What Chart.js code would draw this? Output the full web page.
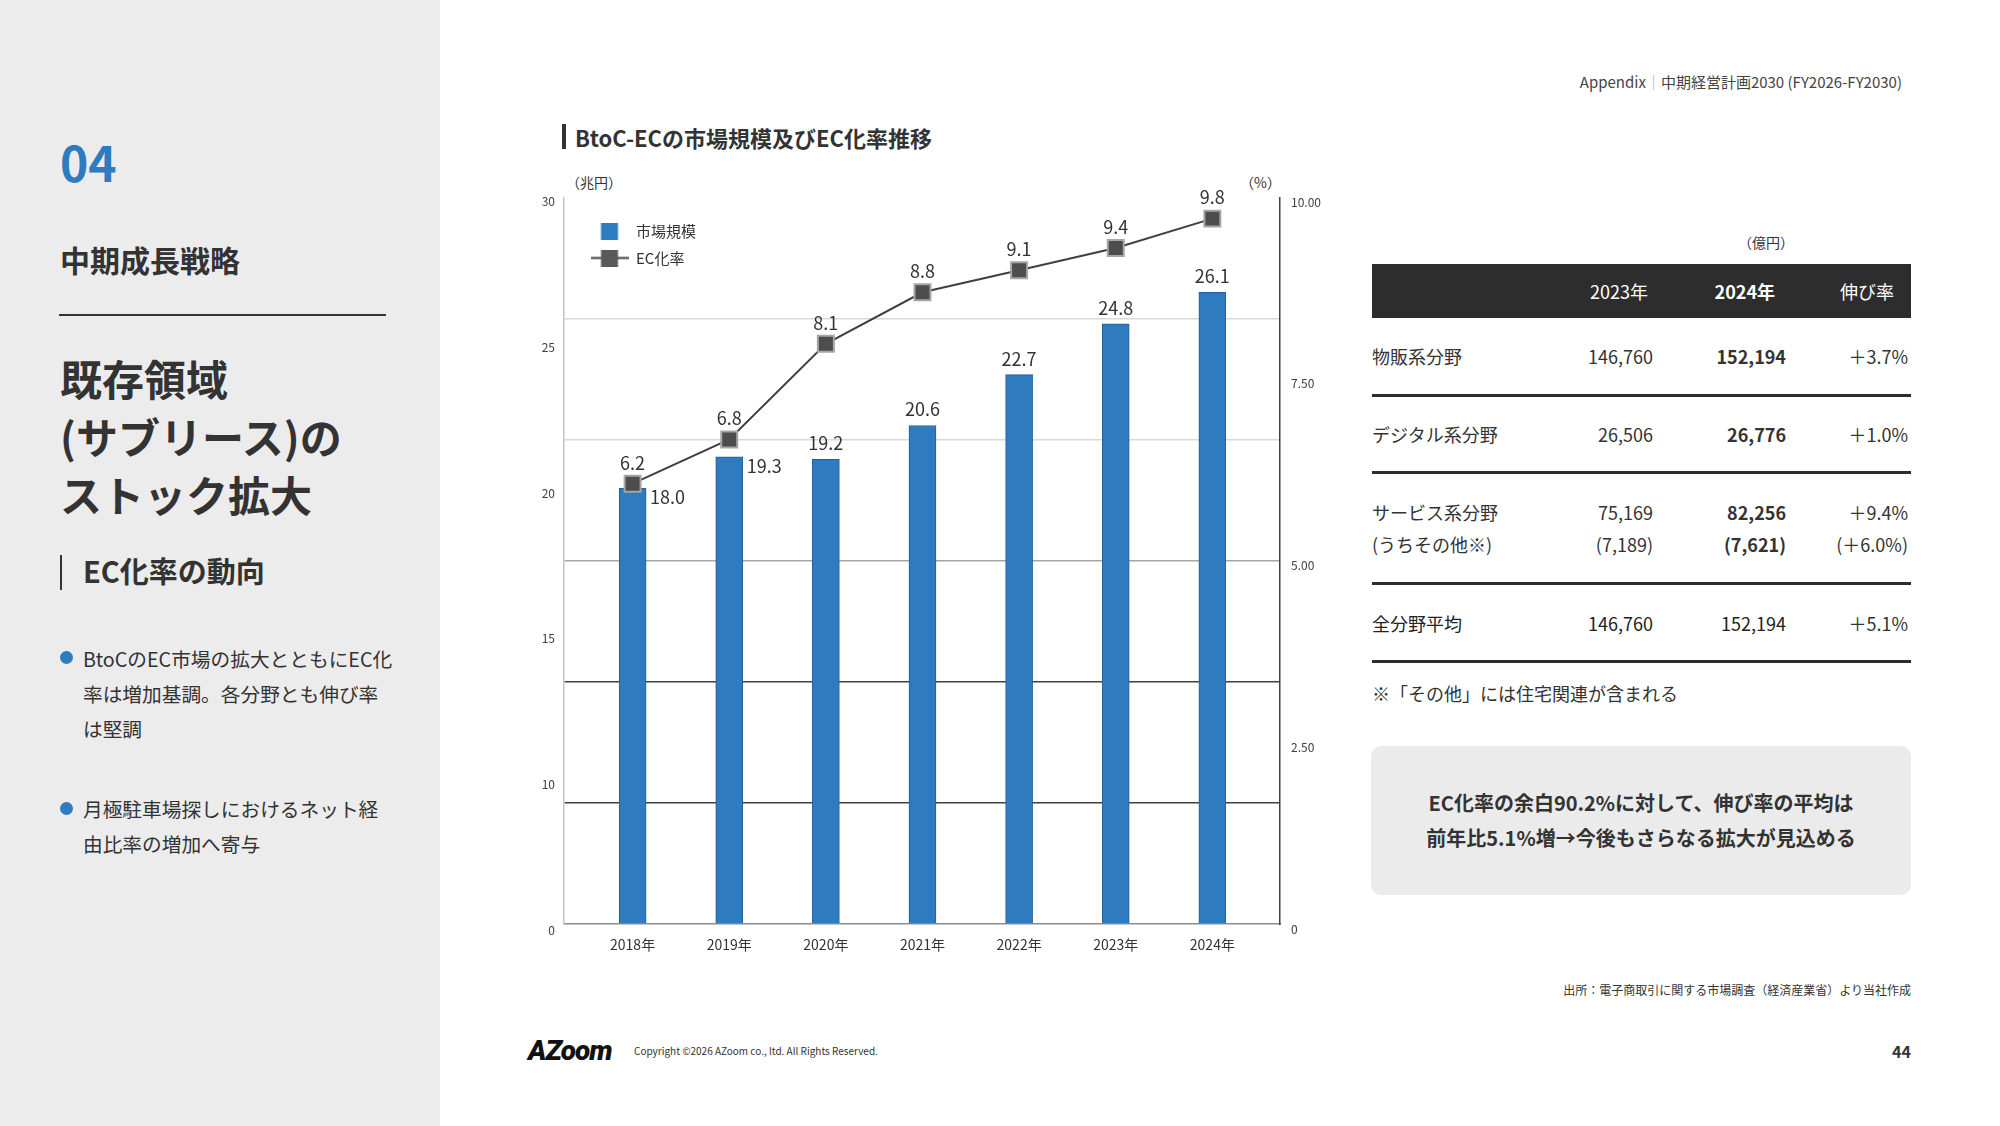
<!DOCTYPE html>
<html lang="ja">
<head>
<meta charset="utf-8">
<title>BtoC-ECの市場規模及びEC化率推移</title>
<script src="https://cdn.jsdelivr.net/npm/chart.js@4.4.1/dist/chart.umd.min.js"></script>
<style>
  html, body { margin: 0; padding: 0; }
  body {
    width: 2000px; height: 1126px; position: relative; overflow: hidden;
    background: #fff; color: #333;
    font-family: "Noto Sans CJK JP", "Noto Sans", sans-serif;
  }
  .abs { position: absolute; white-space: nowrap; line-height: 1; }
  #side { position: absolute; left: 0; top: 0; width: 440px; height: 1126px; background: #ececec; }
  #chartBox { position: absolute; left: 520px; top: 150px; width: 820px; height: 830px; }
  table.ec {
    position: absolute; left: 1372px; top: 264px; width: 539px;
    border-collapse: collapse; table-layout: fixed; font-size: 18px; white-space: nowrap;
  }
  table.ec th { background: #2d2d2d; color: #fff; font-weight: 400; height: 54px; padding: 0; text-align: right; }
  table.ec td { padding: 0; text-align: right; line-height: 32px; }
  table.ec td:first-child { text-align: left; }
  table.ec td:last-child { padding-right: 3px; }
  table.ec tr.sep td { border-bottom: 3px solid #2d2d2d; }
  table.ec b { font-weight: 700; }
</style>
</head>
<body>
<div id="side"></div>
<div class="abs" style="left:60px;top:137px;font-size:48px;font-weight:700;color:#2e7bbf;">04</div>
<div class="abs" style="left:60px;top:244px;font-size:30px;font-weight:700;">中期成長戦略</div>
<div class="abs" style="left:59px;top:314px;width:327px;height:2px;background:#333;"></div>
<div class="abs" style="left:60px;top:349px;font-size:42px;font-weight:700;line-height:58px;">既存領域<br>(サブリース)の<br>ストック拡大</div>
<div class="abs" style="left:60px;top:555px;width:2px;height:35px;background:#333;"></div>
<div class="abs" style="left:83px;top:556px;font-size:29px;font-weight:700;">EC化率の動向</div>
<div class="abs" style="left:60px;top:651px;width:13px;height:13px;border-radius:50%;background:#2e7bbf;"></div>
<div class="abs" style="left:83px;top:641px;font-size:19.7px;line-height:35px;">BtoCのEC市場の拡大とともにEC化<br>率は増加基調。各分野とも伸び率<br>は堅調</div>
<div class="abs" style="left:60px;top:802px;width:13px;height:13px;border-radius:50%;background:#2e7bbf;"></div>
<div class="abs" style="left:83px;top:791px;font-size:19.7px;line-height:35px;">月極駐車場探しにおけるネット経<br>由比率の増加へ寄与</div>

<div class="abs" style="right:98px;top:74px;font-size:15px;color:#444;">Appendix<span style="color:#aaa;">｜</span>中期経営計画2030 (FY2026-FY2030)</div>

<div class="abs" style="left:562px;top:124px;width:4px;height:25px;background:#333;"></div>
<div class="abs" style="left:575px;top:126px;font-size:22px;font-weight:700;">BtoC-ECの市場規模及びEC化率推移</div>
<div class="abs" style="left:566px;top:175px;font-size:14px;">（兆円）</div>
<div class="abs" style="left:1240px;top:175px;font-size:14px;">（%）</div>

<div id="chartBox"><canvas id="ecChart" width="820" height="830"></canvas></div>

<div class="abs" style="left:1738px;top:235px;font-size:14px;">（億円）</div>
<table class="ec">
  <colgroup><col style="width:177px"><col style="width:104px"><col style="width:133px"><col style="width:125px"></colgroup>
  <tr><th></th><th style="padding-right:5px;">2023年</th><th style="padding-right:11px;font-weight:700;">2024年</th><th style="padding-right:17px;">伸び率</th></tr>
  <tr class="sep"><td style="height:76px;">物販系分野</td><td>146,760</td><td><b>152,194</b></td><td>＋3.7%</td></tr>
  <tr class="sep"><td style="height:74px;">デジタル系分野</td><td>26,506</td><td><b>26,776</b></td><td>＋1.0%</td></tr>
  <tr class="sep"><td style="height:108px;">サービス系分野<br>(うちその他※)</td><td>75,169<br>(7,189)</td><td><b>82,256<br>(7,621)</b></td><td>＋9.4%<br>(＋6.0%)</td></tr>
  <tr class="sep"><td style="height:75px;color:#222;">全分野平均</td><td style="color:#222;">146,760</td><td style="color:#222;">152,194</td><td>＋5.1%</td></tr>
</table>
<div class="abs" style="left:1372px;top:684px;font-size:18px;">※「その他」には住宅関連が含まれる</div>
<div class="abs" style="left:1371px;top:746px;width:540px;height:149px;background:#ebebeb;border-radius:10px;"></div>
<div class="abs" style="left:1371px;top:785px;width:540px;text-align:center;font-size:20px;font-weight:700;line-height:35px;">EC化率の余白90.2%に対して、伸び率の平均は<br>前年比5.1%増→今後もさらなる拡大が見込める</div>
<div class="abs" style="right:89px;top:984px;font-size:12px;">出所：電子商取引に関する市場調査（経済産業省）より当社作成</div>

<div class="abs" style="left:528px;top:1037px;font-size:28px;font-weight:900;font-style:italic;letter-spacing:-1px;color:#111;font-family:Roboto,'Liberation Sans',sans-serif;">AZoom</div>
<div class="abs" style="left:634px;top:1046px;font-size:10px;">Copyright ©2026 AZoom co., ltd. All Rights Reserved.</div>
<div class="abs" style="right:89px;top:1043px;font-size:16px;font-weight:700;">44</div>

<script>
const years = ["2018年", "2019年", "2020年", "2021年", "2022年", "2023年", "2024年"];
const marketSize = [18.0, 19.3, 19.2, 20.6, 22.7, 24.8, 26.1];   // 兆円
const ecRate = [6.2, 6.8, 8.1, 8.8, 9.1, 9.4, 9.8];              // %
const seriesNames = ["市場規模", "EC化率"];
const leftTickLabels = ["0", "10", "15", "20", "25", "30"];
const rightTicks = [0, 2.5, 5, 7.5, 10];

// where each bar value label goes
const barLabelSide = ["right", "right", "top", "top", "top", "top", "top"];

const BLUE = "#2e7bbf";
const DARK = "#404040";

Chart.defaults.font.family = '"Noto Sans CJK JP", "Noto Sans", sans-serif';
Chart.defaults.color = "#333";

function gridColor(v) {
  if (v === 5 || v === 10) return DARK;
  if (v === 15) return "#a6a6a6";
  if (v === 20 || v === 25) return "#d9d9d9";
  return "rgba(0,0,0,0)";
}

// legend icons
function makeIcon(drawFn) {
  const c = document.createElement("canvas");
  c.width = 38;
  c.height = 17;
  drawFn(c.getContext("2d"));
  return c;
}
const barIcon = makeIcon(function (g) {
  g.fillStyle = BLUE;
  g.fillRect(10.5, 0, 17, 17);
});
const lineIcon = makeIcon(function (g) {
  g.strokeStyle = DARK;
  g.lineWidth = 2;
  g.beginPath();
  g.moveTo(0, 8.5);
  g.lineTo(38, 8.5);
  g.stroke();
  g.fillStyle = "#595959";
  g.fillRect(10.5, 0, 17, 17);
});

const valueLabels = {
  id: "valueLabels",
  afterDatasetsDraw(chart) {
    const ctx = chart.ctx;
    ctx.save();
    ctx.font = '18px "Noto Sans CJK JP"';
    ctx.fillStyle = "#333";
    ctx.textBaseline = "middle";
    chart.getDatasetMeta(0).data.forEach(function (bar, i) {
      const txt = marketSize[i].toFixed(1);
      if (barLabelSide[i] === "right") {
        ctx.textAlign = "left";
        ctx.fillText(txt, bar.x + bar.width / 2 + 4, bar.y + 9);
      } else {
        ctx.textAlign = "center";
        ctx.fillText(txt, bar.x, bar.y - 16);
      }
    });
    chart.getDatasetMeta(1).data.forEach(function (pt, i) {
      ctx.textAlign = "center";
      ctx.fillText(ecRate[i].toFixed(1), pt.x, pt.y - 21);
    });
    ctx.restore();
  }
};

// move the in-plot legend down/right from the corner
const legendNudge = {
  id: "legendNudge",
  afterLayout(chart) {
    const lg = chart.legend;
    if (lg) {
      lg.left = chart.chartArea.left + 14.5;
      lg.top = chart.chartArea.top + 13.5;
    }
  }
};

const ctx = document.getElementById("ecChart");
new Chart(ctx, {
  type: "bar",
  data: {
    datasets: [
      {
        type: "bar",
        label: seriesNames[0],
        data: years.map((_, i) => ({ x: i, y: marketSize[i] })),
        backgroundColor: BLUE,
        borderColor: "#245f95",
        borderWidth: 1,
        barThickness: 27,
        xAxisID: "x",
        yAxisID: "y",
        order: 2
      },
      {
        type: "line",
        label: seriesNames[1],
        data: years.map((_, i) => ({ x: i, y: ecRate[i] })),
        borderColor: DARK,
        borderWidth: 2,
        tension: 0,
        pointStyle: "rect",
        pointRadius: 11.3,
        pointBackgroundColor: "#4d4d4d",
        pointBorderColor: "#a6a6a6",
        pointBorderWidth: 2,
        xAxisID: "x",
        yAxisID: "y1",
        order: 1
      }
    ]
  },
  options: {
    responsive: false,
    animation: false,
    devicePixelRatio: 1,
    layout: { padding: { top: 48, left: 0, right: 0, bottom: 0 } },
    plugins: {
      tooltip: { enabled: false },
      legend: {
        position: "chartArea",
        align: "start",
        labels: {
          usePointStyle: true,
          pointStyleWidth: 38,
          padding: 12,
          font: { size: 15 },
          color: "#333",
          generateLabels: function () {
            return [
              { text: seriesNames[0], pointStyle: barIcon, datasetIndex: 0, lineWidth: 0, fillStyle: BLUE, strokeStyle: BLUE, fontColor: "#333" },
              { text: seriesNames[1], pointStyle: lineIcon, datasetIndex: 1, lineWidth: 0, fillStyle: DARK, strokeStyle: DARK, fontColor: "#333" }
            ];
          }
        }
      }
    },
    scales: {
      x: {
        type: "linear",
        min: -0.71,
        max: 6.7,
        offset: false,
        afterBuildTicks: function (s) {
          s.ticks = years.map((_, i) => ({ value: i }));
        },
        afterFit: function (s) { s.height = 56; },
        ticks: {
          callback: (v, i) => years[i],
          font: { size: 14 },
          color: "#333",
          padding: 12,
          maxRotation: 0,
          autoSkip: false
        },
        grid: { display: false, drawTicks: false, offset: false },
        border: { color: "#8c8c8c", width: 1.5 }
      },
      y: {
        position: "left",
        weight: 0,
        min: 0,
        max: 30,
        ticks: { display: false, stepSize: 5 },
        grid: { color: (c) => gridColor(c.tick.value), lineWidth: 1.5, drawTicks: false },
        border: { color: "#c4c4c4", width: 1.5 },
        afterFit: function (s) { s.width = 0; }
      },
      yl: {
        position: "left",
        weight: 1,
        min: 0.041,
        max: 5.027,
        afterBuildTicks: function (s) {
          s.ticks = leftTickLabels.map((_, i) => ({ value: i }));
        },
        ticks: {
          callback: (v, i) => leftTickLabels[i],
          font: { size: 12 },
          color: "#404040",
          padding: 9
        },
        grid: { display: false, drawTicks: false },
        border: { display: false },
        afterFit: function (s) { s.width = 44; }
      },
      y1: {
        position: "right",
        weight: 0,
        min: 0.22,
        max: 10.08,
        ticks: { display: false },
        grid: { display: false, drawTicks: false },
        border: { color: DARK, width: 1.5 },
        afterFit: function (s) { s.width = 0; }
      },
      yr: {
        position: "right",
        weight: 1,
        min: 0.069,
        max: 10.055,
        afterBuildTicks: function (s) {
          s.ticks = rightTicks.map((v) => ({ value: v }));
        },
        ticks: {
          callback: (v) => (v === 0 ? "0" : v.toFixed(2)),
          font: { size: 12 },
          color: "#404040",
          padding: 11
        },
        grid: { display: false, drawTicks: false },
        border: { display: false },
        afterFit: function (s) { s.width = 60; }
      }
    }
  },
  plugins: [valueLabels, legendNudge]
});
</script>
</body>
</html>
